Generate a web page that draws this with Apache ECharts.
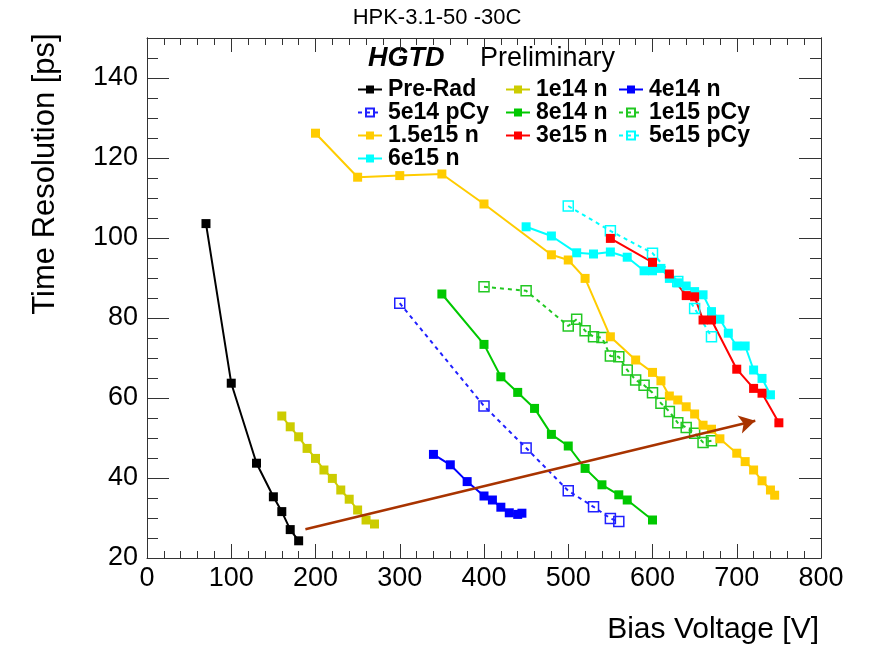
<!DOCTYPE html>
<html>
<head>
<meta charset="utf-8">
<script src="https://cdn.jsdelivr.net/npm/echarts@6/dist/echarts.min.js"></script>
<style>html,body{margin:0;padding:0;background:#fff}#c{width:874px;height:646px}</style>
</head>
<body>
<div id="c"></div>
<script>
// ---- data (Bias Voltage [V], Time Resolution [ps]) ----
const preRadV = [70,100,130,150,160,170,180];
const preRadT = [103.6,63.7,43.7,35.3,31.6,27.1,24.3];
const n1e14V = [160,170,180,190,200,210,220,230,240,250,260,270];
const n1e14T = [55.5,52.8,50.3,47.4,44.9,42.0,39.9,37.0,34.7,32.0,29.5,28.5];
const n4e14V = [340,360,380,400,410,420,430,440,445];
const n4e14T = [45.9,43.3,39.1,35.5,34.5,32.7,31.3,30.9,31.2];
const p5e14V = [300,400,450,500,530,550,560];
const p5e14T = [83.7,58.0,47.5,36.8,32.8,29.9,29.1];
const n8e14V = [350,400,420,440,460,480,500,520,540,560,570,600];
const n8e14T = [86.0,73.4,65.3,61.4,57.4,50.9,48.0,42.4,38.3,35.8,34.5,29.5];
const p1e15V = [400,450,500,510,520,530,540,550,560,570,580,590,600,610,620,630,640,650,660,670];
const p1e15T = [87.8,86.8,78.0,79.7,76.8,75.3,75.1,70.5,70.3,67.0,64.5,63.2,61.3,58.7,56.6,53.8,52.6,51.2,48.9,49.3];
const n15e15V = [200,250,300,350,400,480,500,520,550,580,600,610,620,630,640,650,660,670,680,700,710,720,730,740,745];
const n15e15T = [126.2,115.2,115.6,116.0,108.5,95.8,94.5,89.9,75.3,69.5,66.4,64.3,60.5,59.5,57.8,56.0,53.2,52.2,49.8,46.2,44.1,42.0,39.3,37.0,35.7];
const n3e15V = [550,600,620,640,650,660,670,700,720,730,750];
const n3e15T = [99.9,93.9,91.0,85.6,85.3,79.5,79.5,67.2,62.4,61.2,53.8];
const p5e15V = [500,550,600,630,650,670];
const p5e15T = [108.0,101.8,96.2,89.1,82.4,75.3];
const n6e15V = [450,480,510,530,550,570,590,600,610,620,630,640,650,660,670,680,690,700,710,720,730,740];
const n6e15T = [102.8,100.5,96.3,96.0,96.5,95.2,91.8,91.8,92.4,89.9,88.8,88.0,86.6,85.8,81.6,79.7,76.2,73.0,73.0,67.0,64.9,60.8];
const arrowV = [188,722];
const arrowT = [27.2,54.3];

const xTicks = {min:0, max:800, interval:100};
const yTicks = {min:20, max:150, interval:20, minorInterval:5};

const legendCol1 = ['Pre-Rad','5e14 pCy','1.5e15 n','6e15 n'];
const legendCol2 = ['1e14 n','8e14 n','3e15 n'];
const legendCol3 = ['4e14 n','1e15 pCy','5e15 pCy'];

// ---- chart ----
const zip = (a,b) => a.map((v,i)=>[v,b[i]]);
const FONT = 'Liberation Sans, Arial, Helvetica, sans-serif';
const AX = '#333';

function filled(name, V, T, color){
  return {name, type:'line', data:zip(V,T), symbol:'rect', symbolSize:9,
    itemStyle:{color}, lineStyle:{color, width:2, type:'solid'}, z:3};
}
function open(name, V, T, color){
  return {name, type:'line', data:zip(V,T), symbol:'rect', symbolSize:10,
    itemStyle:{color:'rgba(255,255,255,0)', borderColor:color, borderWidth:1.5},
    lineStyle:{color, width:2, type:[4,4]}, z:3};
}

const series = [
  filled('Pre-Rad', preRadV, preRadT, '#000000'),
  filled('1e14 n', n1e14V, n1e14T, '#cccc00'),
  filled('4e14 n', n4e14V, n4e14T, '#0000ff'),
  open('5e14 pCy', p5e14V, p5e14T, '#2020ff'),
  filled('8e14 n', n8e14V, n8e14T, '#00c800'),
  open('1e15 pCy', p1e15V, p1e15T, '#22c822'),
  filled('1.5e15 n', n15e15V, n15e15T, '#ffcc00'),
  open('5e15 pCy', p5e15V, p5e15T, '#00ffff'),
  filled('6e15 n', n6e15V, n6e15T, '#00ffff'),
  filled('3e15 n', n3e15V, n3e15T, '#ff0000'),
  {name:'arrow', type:'line', data:[], silent:true, z:4,
   markLine:{silent:true, animation:false, symbol:['none','arrow'], symbolSize:[14,16],
     label:{show:false}, emphasis:{disabled:true},
     lineStyle:{color:'#a83300', width:2.5, type:'solid'},
     data:[[{coord:[arrowV[0],arrowT[0]]},{coord:[arrowV[1],arrowT[1]]}]]}}
];

function legend(data, left){
  return {data, left, top:78, orient:'vertical', itemGap:0, itemWidth:24, itemHeight:10,
    padding:0, selectedMode:false,
    textStyle:{fontSize:23, fontWeight:'bold', fontFamily:FONT, color:'#000', lineHeight:21, padding:[0,0,0,1]}};
}

const xBase = {type:'value', min:xTicks.min, max:xTicks.max, interval:xTicks.interval,
  splitLine:{show:false}, axisLine:{show:true, onZero:false, lineStyle:{color:AX, width:1}},
  axisTick:{show:true, inside:true, length:14, lineStyle:{color:AX}},
  minorTick:{show:true, splitNumber:5, length:7, lineStyle:{color:AX}}};

function yAx(position, interval, len, labels){
  return {type:'value', position, offset:0, min:yTicks.min, max:yTicks.max, interval,
    splitLine:{show:false},
    axisLine:{show:true, onZero:false, lineStyle:{color:AX, width:1}},
    axisTick:{show:true, inside:true, length:len, lineStyle:{color:AX}},
    axisLabel:labels ? {show:true, fontSize:27, fontFamily:FONT, color:'#000', margin:9, showMaxLabel:false} : {show:false}};
}

const option = {
  animation:false,
  backgroundColor:'#fff',
  title:{text:'HPK-3.1-50 -30C', left:'center', top:2,
    textStyle:{fontSize:22, fontWeight:'normal', fontFamily:FONT, color:'#000'}},
  grid:{left:147, right:53, top:38, bottom:88, containLabel:false},
  legend:[legend(legendCol1,357), legend(legendCol2,505), legend(legendCol3,618)],
  xAxis:[
    Object.assign({}, xBase, {position:'bottom',
      axisLabel:{show:true, fontSize:27, fontFamily:FONT, color:'#000', margin:7}}),
    Object.assign({}, xBase, {position:'top', axisLabel:{show:false}})
  ],
  yAxis:[
    yAx('left', yTicks.interval, 22, true),
    yAx('left', yTicks.minorInterval, 11, false),
    yAx('right', yTicks.interval, 22, false),
    yAx('right', yTicks.minorInterval, 11, false)
  ],
  graphic:[
    {type:'text', x:45, y:174, rotation:Math.PI/2,
     style:{text:'Time Resolution [ps]', font:'31px '+FONT, fill:'#000', align:'center', verticalAlign:'middle'}},
    {type:'text', x:819, y:630,
     style:{text:'Bias Voltage [V]', font:'30px '+FONT, fill:'#000', align:'right', verticalAlign:'middle'}},
    {type:'text', x:368, y:59,
     style:{text:'HGTD', font:'italic bold 27px '+FONT, fill:'#000', align:'left', verticalAlign:'middle'}},
    {type:'text', x:480, y:59,
     style:{text:'Preliminary', font:'27px '+FONT, fill:'#000', align:'left', verticalAlign:'middle'}}
  ],
  series
};

const chart = echarts.init(document.getElementById('c'), null, {renderer:'canvas'});
chart.setOption(option);
</script>
</body>
</html>
